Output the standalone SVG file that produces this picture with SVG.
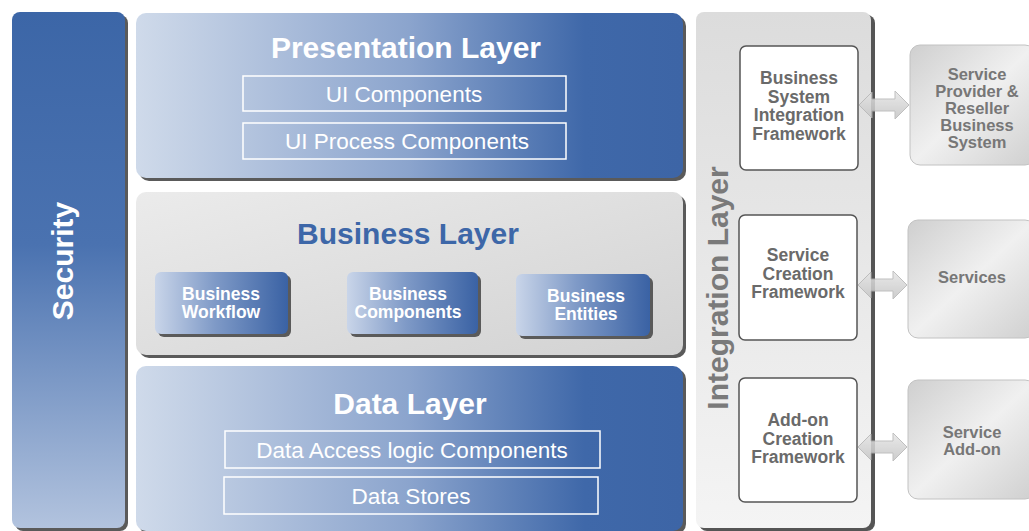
<svg xmlns="http://www.w3.org/2000/svg" width="1029" height="531" viewBox="0 0 1029 531">
<defs>
<linearGradient id="gSec" x1="0" y1="0" x2="0" y2="1"><stop offset="0" stop-color="#3c66a7"/><stop offset="0.45" stop-color="#4a72b0"/><stop offset="1" stop-color="#b2c3de"/></linearGradient>
<linearGradient id="gBlue" x1="0" y1="0" x2="1" y2="0"><stop offset="0" stop-color="#cfdaea"/><stop offset="0.5" stop-color="#8ba4cd"/><stop offset="0.82" stop-color="#3f68a9"/><stop offset="1" stop-color="#3d65a6"/></linearGradient>
<linearGradient id="gSub" x1="0" y1="0" x2="1" y2="0"><stop offset="0" stop-color="#c9d5e9"/><stop offset="0.45" stop-color="#7f9ac7"/><stop offset="1" stop-color="#3a62a4"/></linearGradient>
<linearGradient id="gGray" x1="0" y1="0" x2="1" y2="1"><stop offset="0" stop-color="#ebebeb"/><stop offset="1" stop-color="#d2d2d2"/></linearGradient>
<linearGradient id="gInt" x1="0" y1="0" x2="0" y2="1"><stop offset="0" stop-color="#dcdcdc"/><stop offset="1" stop-color="#f4f4f4"/></linearGradient>
<linearGradient id="gExt" x1="0" y1="0" x2="1" y2="1"><stop offset="0" stop-color="#cfcfcf"/><stop offset="0.5" stop-color="#f0f0f0"/><stop offset="1" stop-color="#cfcfcf"/></linearGradient>
<linearGradient id="gArrow" x1="0" y1="0" x2="0" y2="1"><stop offset="0" stop-color="#e6e6e6"/><stop offset="1" stop-color="#c4c4c4"/></linearGradient>
</defs>
<style>
.shadow{fill:#5a5a5a;}
.title{font-family:"Liberation Sans",Arial,sans-serif;font-weight:bold;font-size:30px;text-anchor:middle;}
.wt{fill:#ffffff;}
.comp{fill:none;stroke:#ffffff;stroke-width:1.5;}
.ctext{font-family:"Liberation Sans",Arial,sans-serif;font-size:22.5px;fill:#ffffff;text-anchor:middle;}
.stext{font-family:"Liberation Sans",Arial,sans-serif;font-weight:bold;font-size:17.5px;fill:#ffffff;text-anchor:middle;}
.ibox{fill:#ffffff;stroke:#555;stroke-width:1.5;}
.itext{font-family:"Liberation Sans",Arial,sans-serif;font-weight:bold;font-size:17.5px;fill:#6a6a6a;text-anchor:middle;}
.etext{font-family:"Liberation Sans",Arial,sans-serif;font-weight:bold;font-size:16.5px;fill:#777;text-anchor:middle;}
.ebox{fill:url(#gExt);stroke:#c2c2c2;stroke-width:1;}
.arrow{fill:url(#gArrow);stroke:#b5b5b5;stroke-width:1;opacity:0.85;}
</style>

<g id="security">
<rect x="15" y="15" width="113" height="516" rx="8" class="shadow"/>
<rect x="12" y="12" width="113" height="516" rx="8" fill="url(#gSec)"/>
<text class="title wt" transform="translate(73,261) rotate(-90)">Security</text>
</g>

<g id="presentation-layer">
<rect x="139" y="16" width="547" height="165" rx="10" class="shadow"/>
<rect x="136" y="13" width="547" height="165" rx="10" fill="url(#gBlue)"/>
<text class="title wt" x="406" y="58">Presentation Layer</text>
<rect x="243" y="76" width="323" height="35" class="comp"/>
<text class="ctext" x="404" y="102">UI Components</text>
<rect x="243" y="123" width="323" height="36" class="comp"/>
<text class="ctext" x="407" y="149">UI Process Components</text>
</g>

<g id="business-layer">
<rect x="139" y="195" width="547" height="163" rx="10" class="shadow"/>
<rect x="136" y="192" width="547" height="163" rx="10" fill="url(#gGray)"/>
<text class="title" x="408" y="244" fill="#3d67a8">Business Layer</text>
<g id="business-workflow">
<rect x="158" y="275" width="133" height="62" rx="6" class="shadow"/>
<rect x="155" y="272" width="133" height="62" rx="6" fill="url(#gSub)"/>
<text class="stext" x="221" y="300">Business</text>
<text class="stext" x="221" y="318">Workflow</text>
</g>
<g id="business-components">
<rect x="350" y="275" width="131" height="62" rx="6" class="shadow"/>
<rect x="347" y="272" width="131" height="62" rx="6" fill="url(#gSub)"/>
<text class="stext" x="408" y="300">Business</text>
<text class="stext" x="408" y="318">Components</text>
</g>
<g id="business-entities">
<rect x="519" y="277" width="134" height="62" rx="6" class="shadow"/>
<rect x="516" y="274" width="134" height="62" rx="6" fill="url(#gSub)"/>
<text class="stext" x="586" y="302">Business</text>
<text class="stext" x="586" y="320">Entities</text>
</g>
</g>

<g id="data-layer">
<rect x="139" y="369" width="547" height="165" rx="10" class="shadow"/>
<rect x="136" y="366" width="547" height="165" rx="10" fill="url(#gBlue)"/>
<text class="title wt" x="410" y="414">Data Layer</text>
<rect x="225" y="431" width="375" height="37" class="comp"/>
<text class="ctext" x="412" y="458">Data Access logic Components</text>
<rect x="224" y="477" width="374" height="37" class="comp"/>
<text class="ctext" x="411" y="504">Data Stores</text>
</g>

<g id="integration-layer">
<rect x="699" y="15" width="176" height="516" rx="8" fill="#555"/>
<rect x="696" y="12" width="175" height="516" rx="8" fill="url(#gInt)"/>
<text transform="translate(728,288) rotate(-90)" font-family="Liberation Sans, Arial, sans-serif" font-weight="bold" font-size="30" fill="#7a7a7a" text-anchor="middle">Integration Layer</text>
</g>

<g id="bsif">
<rect x="740" y="46" width="118" height="124" rx="6" class="ibox"/>
<text class="itext" x="799" y="84">Business</text>
<text class="itext" x="799" y="102.5">System</text>
<text class="itext" x="799" y="121">Integration</text>
<text class="itext" x="799" y="139.5">Framework</text>
</g>
<g id="scf">
<rect x="739" y="215" width="118" height="125" rx="6" class="ibox"/>
<text class="itext" x="798" y="261">Service</text>
<text class="itext" x="798" y="279.5">Creation</text>
<text class="itext" x="798" y="298">Framework</text>
</g>
<g id="acf">
<rect x="739" y="378" width="118" height="124" rx="6" class="ibox"/>
<text class="itext" x="798" y="426">Add-on</text>
<text class="itext" x="798" y="444.5">Creation</text>
<text class="itext" x="798" y="463">Framework</text>
</g>

<g id="sprbs">
<rect x="910" y="45" width="125" height="120" rx="10" class="ebox"/>
<text class="etext" x="977" y="80">Service</text>
<text class="etext" x="977" y="97">Provider &amp;</text>
<text class="etext" x="977" y="114">Reseller</text>
<text class="etext" x="977" y="131">Business</text>
<text class="etext" x="977" y="148">System</text>
</g>
<g id="services">
<rect x="908" y="220" width="127" height="118" rx="10" class="ebox"/>
<text class="etext" x="972" y="283">Services</text>
</g>
<g id="service-addon">
<rect x="908" y="380" width="127" height="119" rx="10" class="ebox"/>
<text class="etext" x="972" y="438">Service</text>
<text class="etext" x="972" y="455">Add-on</text>
</g>

<g id="connectors">
<path class="arrow" d="M859,105 L872,92 L872,99 L895,99 L895,91 L909,105 L895,119 L895,111 L872,111 L872,118 Z"/>
<path class="arrow" d="M858,285 L871,272 L871,279 L893,279 L893,271 L907,285 L893,299 L893,291 L871,291 L871,298 Z"/>
<path class="arrow" d="M858,447 L871,434 L871,441 L893,441 L893,433 L907,447 L893,461 L893,453 L871,453 L871,460 Z"/>
</g>
</svg>
